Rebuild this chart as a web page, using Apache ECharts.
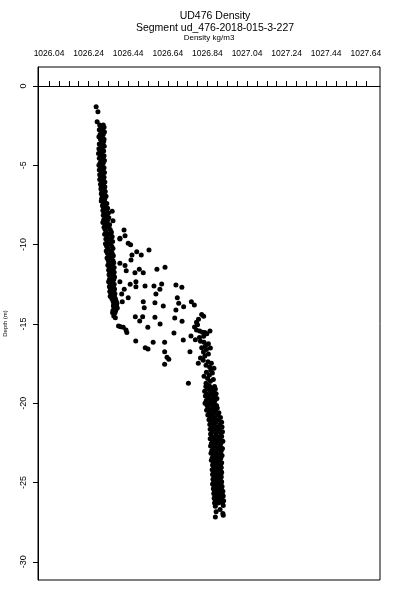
<!DOCTYPE html>
<html>
<head>
<meta charset="utf-8">
<script src="https://cdn.jsdelivr.net/npm/echarts@6/dist/echarts.min.js"></script>
<style>
  html, body { margin: 0; padding: 0; background: #fff; }
  #chart { width: 400px; height: 600px; }
</style>
</head>
<body>
<div id="chart"></div>
<script>
// tick labels
const xLabelValues = [1026.04, 1026.24, 1026.44, 1026.64, 1026.84, 1027.04, 1027.24, 1027.44, 1027.64];
const yLabelValues = [0, -5, -10, -15, -20, -25, -30];

// [density, depth]
const topPoints = [[1026.278, -1.30], [1026.287, -1.62], [1026.283, -2.25]];

// [depth, density, density]
const upperBand = [
  [-2.45, 1026.296, 1026.314], [-2.60, 1026.302, 1026.318], [-2.75, 1026.294, 1026.310],
  [-2.90, 1026.304, 1026.320], [-3.05, 1026.298, 1026.314], [-3.20, 1026.292, 1026.308],
  [-3.35, 1026.300, 1026.318], [-3.50, 1026.306, 1026.316], [-3.65, 1026.294, 1026.312],
  [-3.80, 1026.302, 1026.319], [-3.95, 1026.292, 1026.308], [-4.10, 1026.298, 1026.316],
  [-4.25, 1026.290, 1026.306], [-4.40, 1026.300, 1026.318], [-4.55, 1026.294, 1026.312],
  [-4.70, 1026.304, 1026.320], [-4.85, 1026.298, 1026.314], [-5.00, 1026.292, 1026.308],
  [-5.15, 1026.300, 1026.318], [-5.30, 1026.294, 1026.312], [-5.45, 1026.304, 1026.320],
  [-5.60, 1026.296, 1026.312], [-5.75, 1026.302, 1026.318], [-5.90, 1026.296, 1026.314],
  [-6.05, 1026.306, 1026.322], [-6.20, 1026.300, 1026.314], [-6.35, 1026.304, 1026.322],
  [-6.50, 1026.302, 1026.318], [-6.65, 1026.308, 1026.324], [-6.80, 1026.304, 1026.320],
  [-6.95, 1026.310, 1026.328], [-7.10, 1026.306, 1026.322], [-7.25, 1026.304, 1026.320],
  [-7.40, 1026.314, 1026.332], [-7.55, 1026.310, 1026.326], [-7.70, 1026.316, 1026.336],
  [-7.85, 1026.312, 1026.330], [-8.00, 1026.318, 1026.340], [-8.15, 1026.314, 1026.332],
  [-8.30, 1026.322, 1026.342], [-8.45, 1026.316, 1026.336], [-8.60, 1026.312, 1026.332],
  [-8.75, 1026.324, 1026.346], [-8.90, 1026.318, 1026.340]
];

const midBand = [
  [-9.05, 1026.323, 1026.349], [-9.20, 1026.329, 1026.355], [-9.35, 1026.321, 1026.345],
  [-9.50, 1026.333, 1026.359], [-9.65, 1026.327, 1026.351], [-9.80, 1026.335, 1026.361],
  [-9.95, 1026.325, 1026.347], [-10.10, 1026.331, 1026.357], [-10.25, 1026.337, 1026.363],
  [-10.40, 1026.329, 1026.353], [-10.55, 1026.335, 1026.359], [-10.70, 1026.341, 1026.365],
  [-10.85, 1026.333, 1026.355], [-11.00, 1026.339, 1026.363], [-11.15, 1026.343, 1026.367],
  [-11.30, 1026.337, 1026.359], [-11.45, 1026.345, 1026.369], [-11.60, 1026.341, 1026.363],
  [-11.75, 1026.347, 1026.369], [-11.90, 1026.343, 1026.365], [-12.05, 1026.349, 1026.371],
  [-12.20, 1026.345, 1026.367], [-12.35, 1026.341, 1026.361], [-12.50, 1026.349, 1026.369],
  [-12.65, 1026.345, 1026.365], [-12.80, 1026.351, 1026.371], [-12.95, 1026.347, 1026.367],
  [-13.10, 1026.353, 1026.373], [-13.25, 1026.349, 1026.369], [-13.40, 1026.357, 1026.375],
  [-13.55, 1026.363, 1026.379], [-13.70, 1026.367, 1026.383], [-13.85, 1026.365, 1026.381],
  [-14.00, 1026.369, 1026.385], [-14.15, 1026.363, 1026.377], [-14.30, 1026.361, 1026.373]
];

// [density, depth]
const scatterCloud = [
  [1026.359, -7.90], [1026.363, -8.50], [1026.353, -9.30], [1026.398, -9.60], [1026.440, -9.92],
  [1026.419, -9.08], [1026.424, -9.44], [1026.398, -9.65], [1026.452, -10.01], [1026.483, -10.45],
  [1026.506, -10.66], [1026.545, -10.34], [1026.459, -10.66], [1026.454, -10.97], [1026.398, -11.18],
  [1026.424, -11.31], [1026.496, -11.56], [1026.474, -11.77], [1026.516, -11.77], [1026.585, -11.56],
  [1026.626, -11.43], [1026.430, -11.65], [1026.398, -12.34], [1026.450, -12.50], [1026.479, -12.34],
  [1026.525, -12.61], [1026.570, -12.61], [1026.609, -12.48], [1026.600, -12.82], [1026.681, -12.55],
  [1026.711, -12.69], [1026.479, -12.65], [1026.420, -12.82], [1026.407, -13.11], [1026.440, -13.35],
  [1026.580, -13.11], [1026.410, -13.60], [1026.516, -13.60], [1026.575, -13.66], [1026.617, -13.87],
  [1026.521, -13.98], [1026.688, -13.35], [1026.695, -13.70], [1026.720, -13.92], [1026.759, -13.60],
  [1026.774, -13.81], [1026.681, -14.12], [1026.476, -14.55], [1026.513, -14.55], [1026.498, -14.82],
  [1026.575, -14.58], [1026.601, -15.01], [1026.675, -14.63], [1026.712, -14.84], [1026.539, -15.21],
  [1026.671, -15.57], [1026.718, -16.02], [1026.478, -16.08], [1026.566, -16.16], [1026.624, -16.16],
  [1026.526, -16.50], [1026.540, -16.58], [1026.624, -16.75], [1026.636, -17.11], [1026.645, -17.23],
  [1026.624, -17.55], [1026.752, -16.75], [1026.744, -18.75], [1026.757, -15.76], [1026.794, -17.48],
  [1026.391, -15.13], [1026.415, -15.21], [1026.429, -15.38], [1026.433, -15.55], [1026.402, -15.18],
  [1026.367, -14.50], [1026.375, -14.62]
];

const rightBranch = [
  [1026.811, -14.40], [1026.821, -14.52], [1026.795, -14.70], [1026.785, -14.90], [1026.790, -15.05],
  [1026.775, -15.20], [1026.785, -15.38], [1026.801, -15.45], [1026.815, -15.52], [1026.827, -15.55],
  [1026.853, -15.45], [1026.837, -15.62], [1026.821, -15.78], [1026.800, -15.85], [1026.779, -16.00],
  [1026.805, -16.10], [1026.823, -16.15], [1026.845, -16.25], [1026.830, -16.40], [1026.811, -16.50],
  [1026.855, -16.52], [1026.835, -16.62], [1026.820, -16.78], [1026.845, -16.90], [1026.827, -17.02],
  [1026.805, -17.15], [1026.819, -17.30], [1026.843, -17.38], [1026.860, -17.48], [1026.833, -17.60],
  [1026.851, -17.72], [1026.873, -17.80], [1026.857, -17.92], [1026.835, -18.05], [1026.865, -18.10],
  [1026.850, -18.22], [1026.823, -18.30], [1026.841, -18.45], [1026.870, -18.50], [1026.855, -18.62],
  [1026.833, -18.75], [1026.847, -18.88]
];

// [depth, density, density, density]
const lowerBand = [
  [-18.95, 1026.832, 1026.852, 1026.876], [-19.10, 1026.840, 1026.864, 1026.880],
  [-19.25, 1026.826, 1026.856, 1026.872], [-19.40, 1026.836, 1026.860, 1026.884],
  [-19.55, 1026.830, 1026.850, 1026.874], [-19.70, 1026.842, 1026.866, 1026.888],
  [-19.85, 1026.834, 1026.858, 1026.878], [-20.00, 1026.828, 1026.852, 1026.872],
  [-20.15, 1026.838, 1026.862, 1026.886], [-20.30, 1026.844, 1026.870, 1026.890],
  [-20.45, 1026.836, 1026.856, 1026.880], [-20.60, 1026.850, 1026.874, 1026.898],
  [-20.75, 1026.842, 1026.864, 1026.892], [-20.90, 1026.854, 1026.878, 1026.906],
  [-21.05, 1026.848, 1026.870, 1026.896], [-21.20, 1026.858, 1026.882, 1026.912],
  [-21.35, 1026.852, 1026.874, 1026.902], [-21.50, 1026.860, 1026.886, 1026.914],
  [-21.65, 1026.854, 1026.878, 1026.900], [-21.80, 1026.864, 1026.890, 1026.916],
  [-21.95, 1026.856, 1026.882, 1026.908], [-22.10, 1026.862, 1026.888, 1026.912],
  [-22.25, 1026.854, 1026.876, 1026.902], [-22.40, 1026.866, 1026.892, 1026.918],
  [-22.55, 1026.860, 1026.884, 1026.908], [-22.70, 1026.856, 1026.880, 1026.904],
  [-22.85, 1026.868, 1026.894, 1026.916], [-23.00, 1026.862, 1026.886, 1026.910],
  [-23.15, 1026.858, 1026.882, 1026.906], [-23.30, 1026.870, 1026.892, 1026.914],
  [-23.45, 1026.864, 1026.888, 1026.908], [-23.60, 1026.860, 1026.880, 1026.902],
  [-23.75, 1026.870, 1026.892, 1026.912], [-23.90, 1026.866, 1026.886, 1026.906],
  [-24.05, 1026.872, 1026.890, 1026.910], [-24.20, 1026.864, 1026.884, 1026.904],
  [-24.35, 1026.870, 1026.894, 1026.912], [-24.50, 1026.866, 1026.886, 1026.908],
  [-24.65, 1026.874, 1026.892, 1026.910], [-24.80, 1026.868, 1026.884, 1026.904],
  [-24.95, 1026.872, 1026.890, 1026.912], [-25.10, 1026.866, 1026.888, 1026.908],
  [-25.25, 1026.874, 1026.894, 1026.914], [-25.40, 1026.870, 1026.886, 1026.910],
  [-25.55, 1026.876, 1026.896, 1026.918], [-25.70, 1026.872, 1026.890, 1026.914],
  [-25.85, 1026.878, 1026.898, 1026.920], [-26.00, 1026.874, 1026.892, 1026.912],
  [-26.15, 1026.880, 1026.900, 1026.922], [-26.30, 1026.876, 1026.894, 1026.916]
];

const bottomPoints = [
  [1026.880, -26.50], [1026.920, -26.45], [1026.904, -26.70], [1026.884, -26.85],
  [1026.918, -26.95], [1026.880, -27.18], [1026.920, -27.06]
];

const fromRows = rows => rows.flatMap(r => r.slice(1).map(v => [v, r[0]]));

const points = [].concat(
  topPoints, fromRows(upperBand), fromRows(midBand), scatterCloud,
  rightBranch, fromRows(lowerBand), bottomPoints
);

// small ticks on the top axis every 0.05
const xTickValues = Array.from({ length: 33 }, (_, i) => +(1026.04 + i * 0.05).toFixed(2));

const font = 'Liberation Sans, Arial, sans-serif';
const chart = echarts.init(document.getElementById('chart'));

chart.setOption({
  animation: false,
  backgroundColor: '#fff',
  title: [
    { text: 'UD476 Density', left: 210, top: 5.5, textAlign: 'center',
      textStyle: { fontFamily: font, fontSize: 10.5, fontWeight: 'normal', color: '#000' } },
    { text: 'Segment ud_476-2018-015-3-227', left: 210, top: 18, textAlign: 'center',
      textStyle: { fontFamily: font, fontSize: 10.5, fontWeight: 'normal', color: '#000' } }
  ],
  grid: {
    left: 38, right: 20, top: 67, bottom: 20,
    containLabel: false,
    outerBoundsMode: 'none',
    show: true, borderColor: '#000', borderWidth: 1, backgroundColor: '#fff'
  },
  xAxis: {
    type: 'value',
    position: 'top',
    min: 1025.9844,
    max: 1027.7117,
    name: 'Density kg/m3',
    nameLocation: 'middle',
    nameGap: 25,
    nameTextStyle: { fontFamily: font, fontSize: 8, color: '#000' },
    splitLine: { show: false },
    axisLine: { show: true, lineStyle: { color: '#000', width: 1 } },
    axisTick: { show: true, length: 5, customValues: xTickValues, lineStyle: { color: '#000' } },
    axisLabel: {
      customValues: xLabelValues,
      margin: 9,
      fontFamily: font, fontSize: 8.5, color: '#000',
      formatter: v => v.toFixed(2)
    }
  },
  yAxis: {
    type: 'value',
    min: -31.15,
    max: 1.2,
    name: 'Depth (m)',
    nameLocation: 'middle',
    nameRotate: 90,
    nameGap: 30,
    nameTextStyle: { fontFamily: font, fontSize: 6, color: '#000' },
    splitLine: { show: false },
    axisLine: { show: true, lineStyle: { color: '#000', width: 1 } },
    axisTick: { show: true, length: 5, customValues: yLabelValues, lineStyle: { color: '#000' } },
    axisLabel: {
      customValues: yLabelValues,
      rotate: 90,
      margin: 10,
      fontFamily: font, fontSize: 9, color: '#000'
    }
  },
  series: [{
    type: 'scatter',
    data: points,
    symbol: 'circle',
    symbolSize: 5,
    itemStyle: { color: '#000', opacity: 1 },
    silent: true
  }]
});
</script>
</body>
</html>
